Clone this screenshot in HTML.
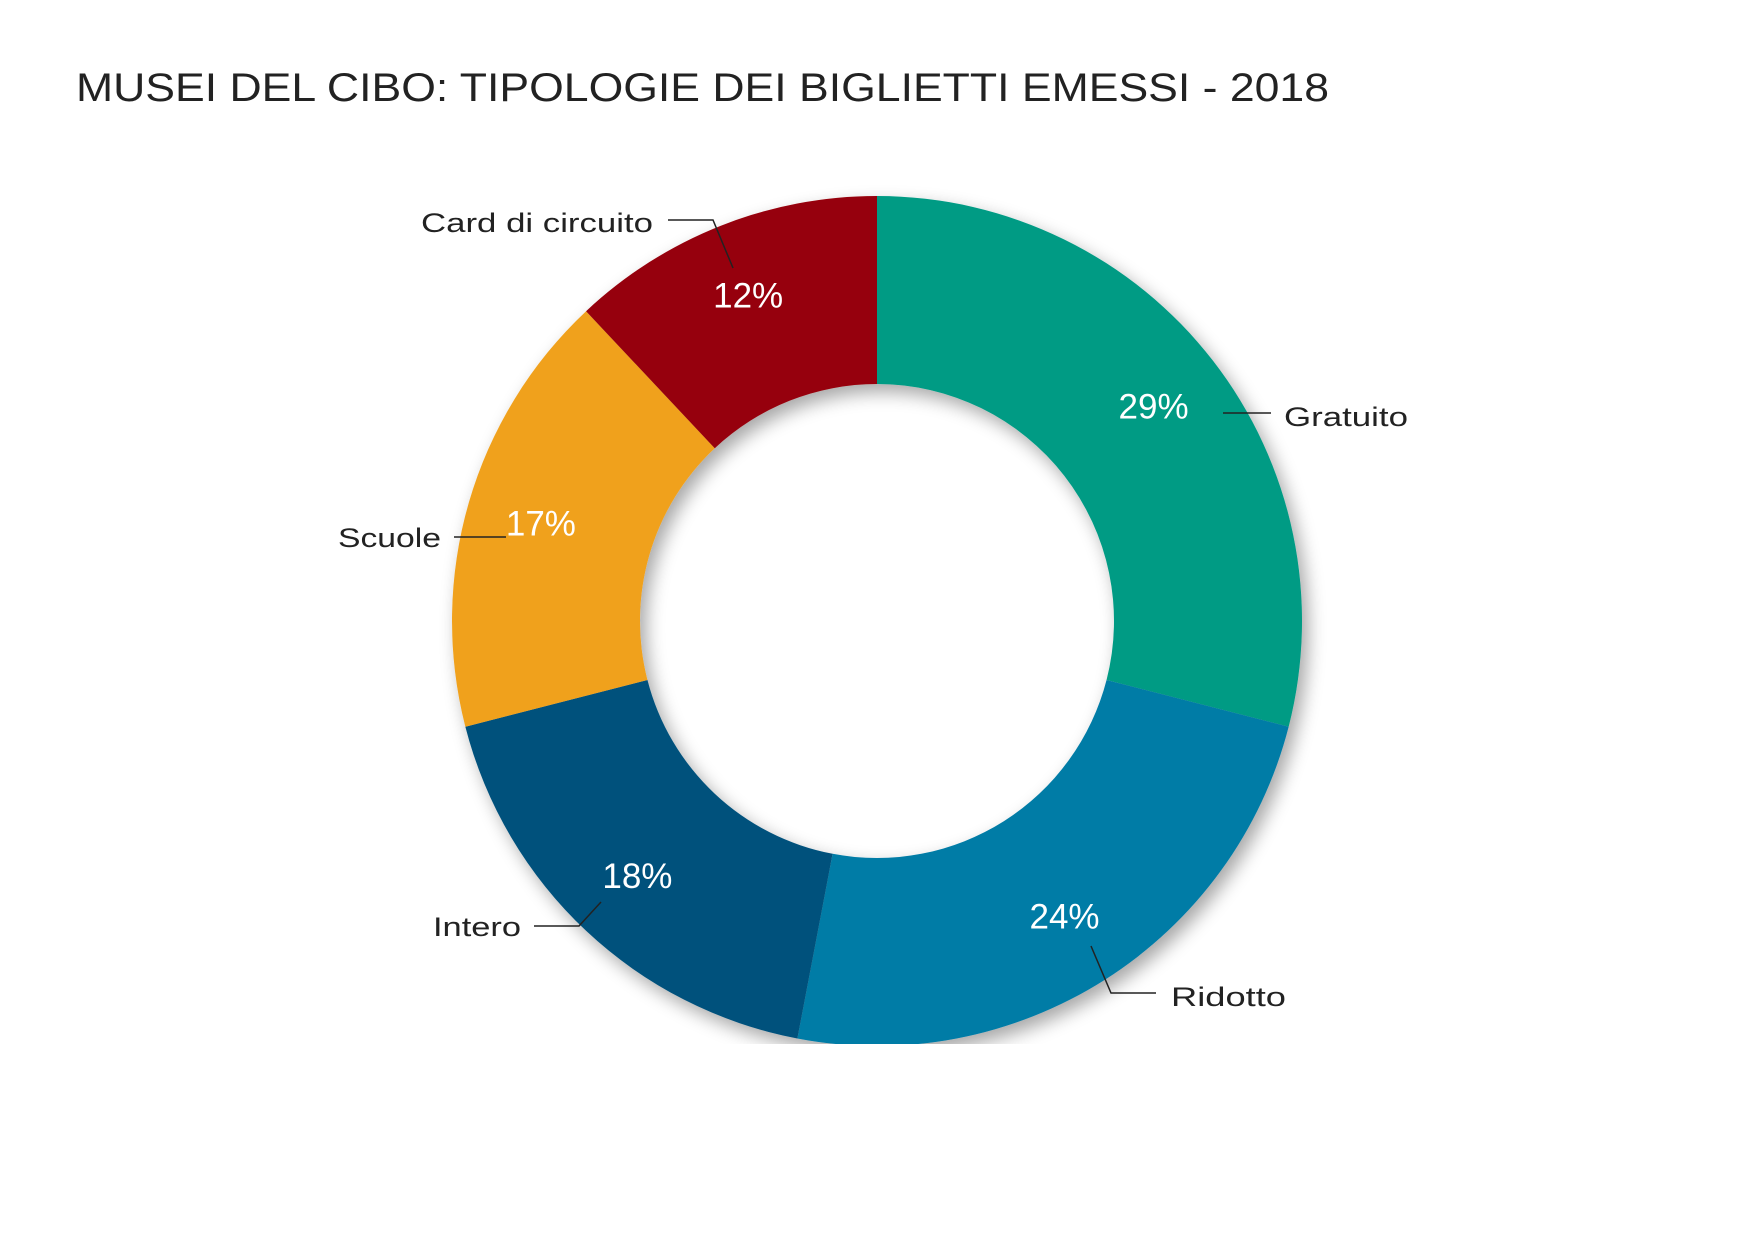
<!DOCTYPE html>
<html><head><meta charset="utf-8"><style>
html,body{margin:0;padding:0;background:#fff;}
svg{display:block;font-family:"Liberation Sans",sans-serif;}
</style></head><body>
<svg id="chart" width="1754" height="1241" viewBox="0 0 1754 1241" xmlns="http://www.w3.org/2000/svg">
<defs>
<filter id="sh" x="-20%" y="-20%" width="140%" height="140%">
<feGaussianBlur in="SourceAlpha" stdDeviation="9"/>
<feOffset dx="6" dy="8" result="b"/>
<feComponentTransfer><feFuncA type="linear" slope="0.35"/></feComponentTransfer>
<feMerge><feMergeNode/><feMergeNode in="SourceGraphic"/></feMerge>
</filter>
<clipPath id="clip"><rect x="0" y="0" width="1754" height="1044"/></clipPath>
</defs>
<text x="76" y="101" font-size="40" fill="#222" textLength="1253" lengthAdjust="spacingAndGlyphs">MUSEI DEL CIBO: TIPOLOGIE DEI BIGLIETTI EMESSI - 2018</text>
<g id="slices" clip-path="url(#clip)"><g filter="url(#sh)" id="slicesInner"></g></g>
<g id="pct"></g>
<g stroke="#222" stroke-width="1.5" fill="none">
<polyline points="668,220 713,220 733,268"/>
<polyline points="1223,413 1271,413"/>
<polyline points="454,537 506,537"/>
<polyline points="534,926 579,926 601,902"/>
<polyline points="1091,946 1111,993 1156,993"/>
</g>
<g font-size="27" fill="#222">
<text x="421" y="232" textLength="232" lengthAdjust="spacingAndGlyphs">Card di circuito</text>
<text x="1284" y="426" textLength="124" lengthAdjust="spacingAndGlyphs">Gratuito</text>
<text x="338" y="547" textLength="103" lengthAdjust="spacingAndGlyphs">Scuole</text>
<text x="433" y="936" textLength="88" lengthAdjust="spacingAndGlyphs">Intero</text>
<text x="1171" y="1006" textLength="115" lengthAdjust="spacingAndGlyphs">Ridotto</text>
</g>
</svg>
<script>
const categories = ["Gratuito","Ridotto","Intero","Scuole","Card di circuito"];
const values = [29,24,18,17,12];
const colors = ["#029b84","#007ba6","#06517b","#f0a11e","#960009"];
const cx=877, cy=621, R=425, r=237, rl=350;
const NS="http://www.w3.org/2000/svg";
const total = values.reduce((a,b)=>a+b,0);
function pt(rad,a){return [cx+rad*Math.sin(a), cy-rad*Math.cos(a)];}
const g=document.getElementById('slicesInner'), pg=document.getElementById('pct');
let a0=0;
values.forEach((v,i)=>{
  const a1=a0+v/total*2*Math.PI;
  const large=(a1-a0)>Math.PI?1:0;
  const [x0,y0]=pt(R,a0),[x1,y1]=pt(R,a1),[x2,y2]=pt(r,a1),[x3,y3]=pt(r,a0);
  const p=document.createElementNS(NS,'path');
  p.setAttribute('d',`M${x0},${y0}A${R},${R} 0 ${large} 1 ${x1},${y1}L${x2},${y2}A${r},${r} 0 ${large} 0 ${x3},${y3}Z`);
  p.setAttribute('fill',colors[i]);
  
  
  g.appendChild(p);
  const am=(a0+a1)/2; const [lx,ly]=pt(rl,am);
  const t=document.createElementNS(NS,'text');
  t.setAttribute('x',lx); t.setAttribute('y',ly+12);
  t.setAttribute('text-anchor','middle'); t.setAttribute('font-size','35'); t.setAttribute('fill','#fff');
  t.textContent=Math.round(v/total*100)+'%';
  
  
  pg.appendChild(t);
  a0=a1;
});
</script>
</body></html>
